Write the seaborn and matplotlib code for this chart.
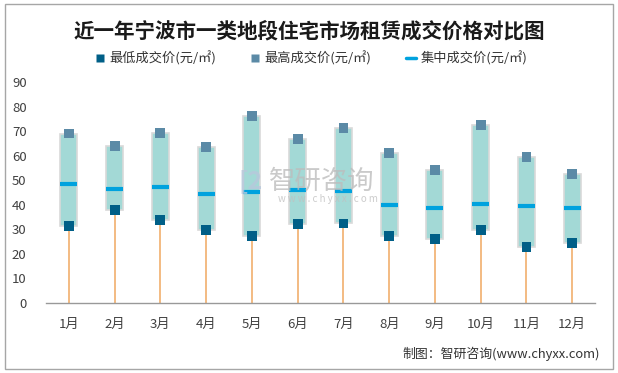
import numpy as np
import pandas as pd
import matplotlib
matplotlib.use('Agg')
import matplotlib.pyplot as plt
from matplotlib.lines import Line2D
from matplotlib.patches import Rectangle
import seaborn as sns

months = ['1月', '2月', '3月', '4月', '5月', '6月', '7月', '8月', '9月', '10月', '11月', '12月']
low_price = [31.3, 37.9, 33.7, 29.6, 27.2, 32.0, 32.4, 27.2, 25.9, 29.6, 22.7, 24.3]
high_price = [69.0, 63.8, 69.1, 63.5, 76.0, 66.8, 71.1, 61.0, 54.0, 72.4, 59.3, 52.4]
mid_price = [48.3, 46.3, 47.1, 44.3, 45.1, 45.9, 45.5, 39.8, 38.6, 40.2, 39.4, 38.6]

df = pd.DataFrame({'month': months, 'low': low_price, 'high': high_price, 'mid': mid_price})
df['pos'] = np.arange(len(df))

sns.set_style('white')
plt.rcParams['font.family'] = ['Noto Sans CJK SC', 'DejaVu Sans']

fig = plt.figure(figsize=(6.18, 3.73), dpi=100)
ax = fig.add_axes([0.0744, 0.1877, 0.8886, 0.5925])

c_low = '#005f87'
c_high = '#5b8aa6'
c_mid = '#00a2de'
c_box = '#a3d9d6'
c_stem = '#f0a860'
bw = 0.37

# stems from the axis up to the lowest price
ax.vlines(df['pos'], 0, df['low'], color=c_stem, lw=1.1, zorder=1)
# floating boxes low -> high
ax.bar(df['pos'], df['high'] - df['low'], bottom=df['low'], width=bw,
       color=c_box, edgecolor='#d9d9d9', linewidth=1.2, zorder=2)
# median marks
ax.hlines(df['mid'], df['pos'] - bw / 2, df['pos'] + bw / 2, color=c_mid, lw=3, zorder=3)
sns.scatterplot(data=df, x='pos', y='low', marker='s', s=50, color=c_low,
                edgecolor='none', ax=ax, zorder=4, legend=False)
sns.scatterplot(data=df, x='pos', y='high', marker='s', s=50, color=c_high,
                edgecolor='none', ax=ax, zorder=4, legend=False)

ax.set_xlim(-0.5, len(months) - 0.5)
ax.set_ylim(0, 90)
ax.set_yticks(range(0, 91, 10))
ax.set_xticks(df['pos'])
ax.set_xticklabels(months)
ax.set_xlabel('')
ax.set_ylabel('')
ax.tick_params(axis='both', length=0, labelsize=9.5, colors='#404040')
ax.tick_params(axis='x', pad=11)
ax.tick_params(axis='y', pad=14)
for s in ['top', 'right', 'left']:
    ax.spines[s].set_visible(False)
ax.spines['bottom'].set_color('#999999')
ax.spines['bottom'].set_linewidth(1)

fig.text(0.5, 0.918, '近一年宁波市一类地段住宅市场租赁成交价格对比图', ha='center', va='center',
         fontsize=14.8, fontweight='bold', color='#1a1a1a')

handles = [
    Line2D([], [], marker='s', color='none', markerfacecolor=c_low, markeredgecolor='none', markersize=6),
    Line2D([], [], marker='s', color='none', markerfacecolor=c_high, markeredgecolor='none', markersize=6),
    Line2D([], [], color=c_mid, lw=2.5),
]
labels = ['最低成交价(元/㎡)', '最高成交价(元/㎡)', '集中成交价(元/㎡)']
fig.legend(handles, labels, loc='center', bbox_to_anchor=(0.503, 0.843), ncol=3, frameon=False,
           fontsize=9.5, handlelength=0.8, handletextpad=0.3, columnspacing=2.6, labelcolor='#333333')

# watermark
fig.text(0.52, 0.515, '智研咨询', ha='center', va='center', fontsize=19, color='#bdbdbd', alpha=0.8)
fig.text(0.53, 0.467, 'w w w . c h y x x . c o m', ha='center', va='center', fontsize=7,
         color='#c0c0c0', alpha=0.8)
fig.text(0.405, 0.515, '[2', ha='center', va='center', fontsize=18, fontweight='bold',
         color='#b8c8dc', alpha=0.8)

fig.text(0.970, 0.051, '制图：智研咨询(www.chyxx.com)', ha='right', va='center',
         fontsize=9.3, color='#333333')

fig.patches.append(Rectangle((0.008, 0.012), 0.984, 0.976, transform=fig.transFigure,
                             fill=False, edgecolor='#a6a6a6', linewidth=1))

fig.savefig('out.png', dpi=100)
